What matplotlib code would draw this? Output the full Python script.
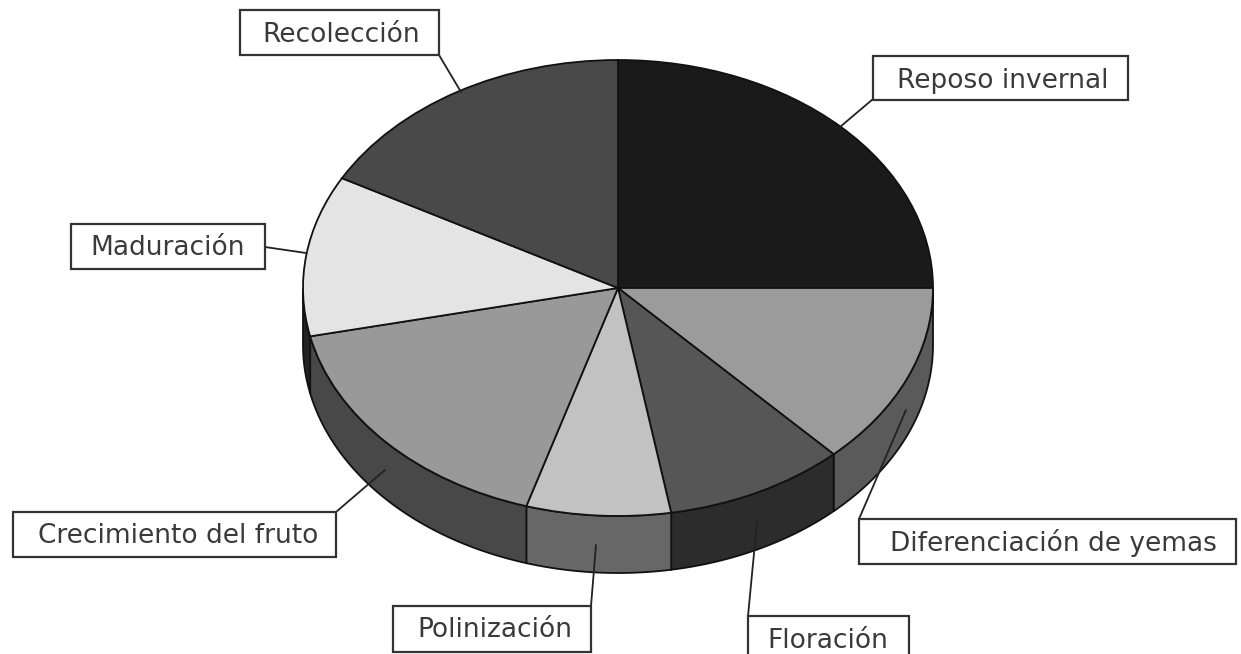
import numpy as np
import matplotlib
matplotlib.use("Agg")
import matplotlib.pyplot as plt

# Chart data, clockwise from twelve o'clock
categories = ["Reposo invernal", "Diferenciación de yemas", "Floración", "Polinización",
              "Crecimiento del fruto", "Maduración", "Recolección"]
values = [25, 13, 9.3, 7.4, 16.9, 11.4, 17]
top_colors = ["#1a1a1a", "#9b9b9b", "#565656", "#c2c2c2", "#999999", "#e4e4e4", "#494949"]
side_colors = ["#101010", "#5a5a5a", "#2c2c2c", "#676767", "#484848", "#222222", "#303030"]

W, H = 1241, 654
CX, CY, RX, RY, DEPTH = 618, 288, 315, 228, 57

# label boxes (left, top, right, bottom) and leader lines in picture pixels
boxes = [(873, 56, 1128, 100), (859, 519, 1236, 564), (748, 616, 909, 670), (393, 606, 591, 652),
         (13, 512, 336, 557), (71, 224, 265, 269), (240, 10, 439, 55)]
text_anchors = [(1003, 88), (1053, 551), (828, 648), (495, 637),
                (178, 543), (168, 255), (341, 42)]
leaders = [((873, 99), (840, 127)), ((859, 519), (906, 410)), ((748, 616), (757, 522)),
           ((591, 606), (596, 545)), ((336, 512), (385, 470)), ((265, 247), (306, 253)),
           ((439, 55), (461, 92))]

fig = plt.figure(figsize=(W / 100, H / 100), dpi=100, facecolor="white")

# Pie axes stretched so that the circle becomes the tilted ellipse
ax = fig.add_axes([(CX - RX) / W, 1 - (CY + RY) / H, 2 * RX / W, 2 * RY / H])
wedges, _ = ax.pie(values, startangle=90, counterclock=False, colors=top_colors,
                   radius=1, wedgeprops=dict(edgecolor="#111111", linewidth=1.3, zorder=5))
ax.set_aspect("auto")
ax.set_xlim(-1, 1)
ax.set_ylim(-1, 1)
for w in wedges:
    w.set_clip_on(False)

# Side wall of each slice, following the slice angles
d = DEPTH / RY
edges = 90 - 360 * np.cumsum([0] + values) / np.sum(values)
for a0, a1, col in zip(edges[:-1], edges[1:], side_colors):
    lo, hi = max(a1, -180), min(a0, 0)
    if lo >= hi:
        continue
    t = np.radians(np.linspace(lo, hi, 80))
    xs = np.r_[np.cos(t), np.cos(t)[::-1]]
    ys = np.r_[np.sin(t) - d, np.sin(t)[::-1]]
    ax.fill(xs, ys, facecolor=col, edgecolor="#111111", linewidth=1.3, clip_on=False, zorder=2)

# Overlay in picture pixels for the callouts
ov = fig.add_axes([0, 0, 1, 1], facecolor="none")
ov.set_xlim(0, W)
ov.set_ylim(H, 0)
ov.axis("off")
for name, (l, t, r, b), (tx, ty), (p, q) in zip(categories, boxes, text_anchors, leaders):
    ov.plot([p[0], q[0]], [p[1], q[1]], color="#222222", lw=1.3, zorder=3, solid_capstyle="round")
    ov.add_patch(plt.Rectangle((l, t), r - l, b - t, facecolor="white", edgecolor="#333333",
                               linewidth=1.6, zorder=4))
    ov.text(tx, ty, name, ha="center", va="baseline", fontsize=19, color="#3a3a3a",
            family="DejaVu Sans", zorder=5)

fig.savefig("out.png", dpi=100, facecolor="white")
